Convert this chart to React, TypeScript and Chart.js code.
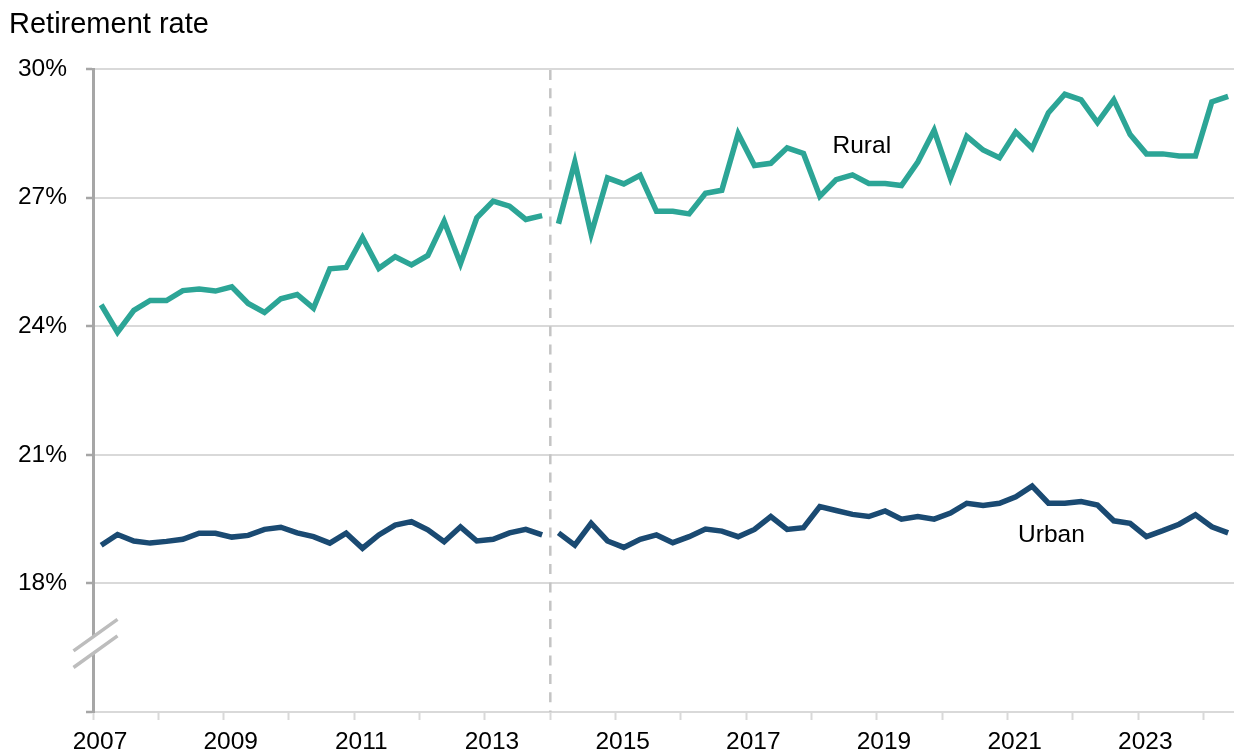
import React, { useEffect, useRef } from 'react';
import { Chart, registerables } from 'chart.js';

Chart.register(...registerables);

// Quarterly categories 2007Q1 .. 2024Q2
const quarters: string[] = [];
for (let yr = 2007; yr <= 2024; yr++) {
  for (let q = 1; q <= 4; q++) {
    if (quarters.length < 70) quarters.push(`${yr}Q${q}`);
  }
}

const rural: number[] = [
  24.50, 23.86, 24.37, 24.60, 24.60, 24.83, 24.87, 24.82, 24.92, 24.53,
  24.32, 24.64, 24.74, 24.42, 25.34, 25.37, 26.07, 25.35, 25.62, 25.43,
  25.65, 26.45, 25.46, 26.53, 26.92, 26.80, 26.49, 26.58, 26.39, 27.83,
  26.15, 27.46, 27.32, 27.52, 26.68, 26.68, 26.62, 27.10, 27.17, 28.49,
  27.75, 27.80, 28.16, 28.03, 27.03, 27.42, 27.53, 27.33, 27.33, 27.28,
  27.83, 28.57, 27.45, 28.43, 28.11, 27.93, 28.53, 28.15, 28.98, 29.41,
  29.28, 28.75, 29.28, 28.47, 28.02, 28.02, 27.97, 27.97, 29.23, 29.36,
];

const urban: number[] = [
  18.89, 19.14, 18.99, 18.94, 18.98, 19.03, 19.17, 19.17, 19.08, 19.12,
  19.26, 19.31, 19.18, 19.09, 18.94, 19.17, 18.82, 19.13, 19.36, 19.44,
  19.25, 18.97, 19.32, 18.99, 19.03, 19.18, 19.26, 19.13, 19.18, 18.89,
  19.40, 18.99, 18.84, 19.03, 19.13, 18.95, 19.09, 19.27, 19.22, 19.09,
  19.26, 19.56, 19.26, 19.30, 19.79, 19.70, 19.61, 19.56, 19.69, 19.50,
  19.56, 19.50, 19.64, 19.87, 19.82, 19.87, 20.02, 20.27, 19.87, 19.87,
  19.91, 19.83, 19.46, 19.40, 19.09, 19.23, 19.38, 19.60, 19.32, 19.18,
];

const yTickValues: number[] = [15, 18, 21, 24, 27, 30];
const xTickYears: number[] = [
  2007, 2008, 2009, 2010, 2011, 2012, 2013, 2014, 2015, 2016, 2017, 2018,
  2019, 2020, 2021, 2022, 2023, 2024,
];
const breakYear = 2014; // methodology break (dashed line, series gap)

const seriesLabels = [
  { text: 'Rural', x: 2018.32, y: 28.03 },
  { text: 'Urban', x: 2021.16, y: 18.965 },
];

const TITLE = 'Retirement rate';
const FONT = '"Liberation Sans", Arial, sans-serif';
const RURAL_COLOR = '#2ca596';
const URBAN_COLOR = '#1a4a72';

function quarterToX(label: string): number {
  const yr = Number(label.slice(0, 4));
  const q = Number(label.slice(5));
  return yr + (q - 0.5) / 4;
}

function toPoints(values: number[]) {
  return quarters.map((q, i) => ({ x: quarterToX(q), y: values[i] }));
}

const gapSegment = {
  borderColor: (ctx: any) =>
    ctx.p0.parsed.x < breakYear && ctx.p1.parsed.x > breakYear ? 'rgba(0,0,0,0)' : undefined,
};

const overlayPlugin = {
  id: 'overlay',
  beforeDatasetsDraw(chart: any) {
    const { ctx, chartArea, scales } = chart;
    const x = scales.x.getPixelForValue(breakYear);
    ctx.save();
    ctx.strokeStyle = '#c4c4c4';
    ctx.lineWidth = 2.5;
    ctx.setLineDash([10, 8.3]);
    ctx.beginPath();
    ctx.moveTo(x, chartArea.top + 1);
    ctx.lineTo(x, chartArea.bottom);
    ctx.stroke();
    ctx.restore();
  },
  afterDraw(chart: any) {
    const { ctx, chartArea, scales } = chart;
    ctx.save();
    // Title
    ctx.fillStyle = '#000';
    ctx.font = `29px ${FONT}`;
    ctx.textAlign = 'left';
    ctx.textBaseline = 'alphabetic';
    ctx.fillText(TITLE, 9, 33);

    // Series labels
    ctx.font = `24.5px ${FONT}`;
    seriesLabels.forEach((l) => {
      ctx.fillText(l.text, scales.x.getPixelForValue(l.x), scales.y.getPixelForValue(l.y));
    });

    // Axis break
    const cx = chartArea.left + 2.5;
    const cy = scales.y.getPixelForValue(16.6);
    const hw = 22;
    const hd = 15.8;
    const g = 8.3;
    ctx.fillStyle = '#ffffff';
    ctx.beginPath();
    ctx.moveTo(cx - hw, cy - g + hd);
    ctx.lineTo(cx + hw, cy - g - hd);
    ctx.lineTo(cx + hw, cy + g - hd);
    ctx.lineTo(cx - hw, cy + g + hd);
    ctx.closePath();
    ctx.fill();
    ctx.strokeStyle = '#bdbdbd';
    ctx.lineWidth = 3.5;
    ctx.beginPath();
    ctx.moveTo(cx - hw, cy - g + hd);
    ctx.lineTo(cx + hw, cy - g - hd);
    ctx.moveTo(cx - hw, cy + g + hd);
    ctx.lineTo(cx + hw, cy + g - hd);
    ctx.stroke();
    ctx.restore();
  },
};

export default function App() {
  const canvasRef = useRef<HTMLCanvasElement | null>(null);

  useEffect(() => {
    if (!canvasRef.current) return;
    const chart = new Chart(canvasRef.current, {
      type: 'line',
      data: {
        datasets: [
          {
            label: 'Rural',
            data: toPoints(rural),
            borderColor: RURAL_COLOR,
            borderWidth: 5.5,
            pointRadius: 0,
            tension: 0,
            segment: gapSegment,
          },
          {
            label: 'Urban',
            data: toPoints(urban),
            borderColor: URBAN_COLOR,
            borderWidth: 5.5,
            pointRadius: 0,
            tension: 0,
            segment: gapSegment,
          },
        ],
      },
      options: {
        animation: false,
        responsive: false,
        devicePixelRatio: 1,
        layout: { padding: { top: 69, left: 0, right: 0, bottom: 0 } },
        plugins: {
          legend: { display: false },
          tooltip: { enabled: false },
          title: { display: false },
        },
        scales: {
          x: {
            type: 'linear',
            min: 2007,
            max: 2024.465,
            afterBuildTicks: (s: any) => {
              s.ticks = xTickYears.map((v) => ({ value: v }));
            },
            afterFit: (s: any) => {
              s.height = 44;
            },
            ticks: {
              autoSkip: false,
              maxRotation: 0,
              minRotation: 0,
              labelOffset: 7,
              padding: 8,
              color: '#000',
              font: { family: FONT, size: 24.5 },
              callback: (v: any) => (Number(v) % 2 === 1 ? String(v) : ''),
            },
            grid: {
              drawOnChartArea: false,
              drawTicks: true,
              tickLength: 8,
              tickColor: '#d9d9d9',
              tickWidth: 2,
            },
            border: { color: '#d9d9d9', width: 2 },
          },
          y: {
            type: 'linear',
            min: 15,
            max: 30,
            afterBuildTicks: (s: any) => {
              s.ticks = yTickValues.map((v) => ({ value: v }));
            },
            afterFit: (s: any) => {
              s.width = 93;
            },
            ticks: {
              padding: 19,
              color: '#000',
              font: { family: FONT, size: 24.5 },
              callback: (v: any) => (Number(v) === 15 ? '' : `${v}%`),
            },
            grid: {
              color: '#d9d9d9',
              lineWidth: 2,
              tickColor: '#a6a6a6',
              tickLength: 7,
              tickWidth: 2.5,
            },
            border: { color: '#a6a6a6', width: 3 },
          },
        },
      },
      plugins: [overlayPlugin],
    } as any);
    return () => chart.destroy();
  }, []);

  return (
    <div
      style={{
        position: 'fixed',
        left: 0,
        top: 0,
        width: 1234,
        height: 756,
        background: '#fff',
        overflow: 'hidden',
      }}
    >
      <canvas ref={canvasRef} width={1234} height={756} style={{ width: 1234, height: 756 }} />
    </div>
  );
}
